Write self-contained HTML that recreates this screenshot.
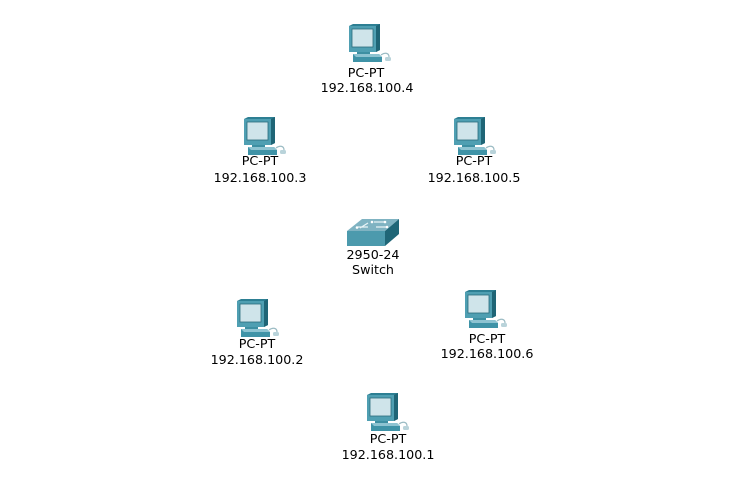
<!DOCTYPE html>
<html><head><meta charset="utf-8"><style>
html,body{margin:0;padding:0;background:#fff;}
body{width:745px;height:491px;position:relative;overflow:hidden;font-family:"DejaVu Sans","Liberation Sans",sans-serif;font-size:12.7px;color:#000;}
.i{position:absolute;}
.t{position:absolute;width:160px;text-align:center;line-height:15px;white-space:nowrap;}
</style></head><body>
<svg width="0" height="0" style="position:absolute">
<defs>
<symbol id="pc" viewBox="0 0 45 38">
  <polygon points="2,2 6,0 33,0 33,26 29,28 2,28" fill="#2d7f93"/>
  <polygon points="2,2 29,2 29,28 2,28" fill="#4f9fb2"/>
  <polygon points="29,2 33,0 33,26 29,28" fill="#1f6576"/>
  <rect x="5" y="5" width="21" height="18" fill="#cfe4ea" stroke="#2a6c7c" stroke-width="0.8"/>
  <rect x="10" y="28" width="13" height="2" fill="#3d8fa2"/>
  <polygon points="6,30 32,30 35,33 35,38 6,38" fill="#3f93a7"/>
  <polygon points="6,30 32,30 35,33 9,33" fill="#8dc3d1"/>
  <path d="M34,31 C38,28 42,29 42,33" stroke="#9cbcc4" stroke-width="1.2" fill="none"/>
  <rect x="38" y="33" width="6" height="4" rx="1.5" fill="#b9d3da"/>
</symbol>
</defs></svg>

<svg class="i" style="left:347px;top:24px" width="45" height="38"><use href="#pc"/></svg>
<div class="t" style="left:286px;top:65px">PC-PT</div>
<div class="t" style="left:287px;top:80px">192.168.100.4</div>

<svg class="i" style="left:242px;top:117px" width="45" height="38"><use href="#pc"/></svg>
<div class="t" style="left:180px;top:153px">PC-PT</div>
<div class="t" style="left:180px;top:170px">192.168.100.3</div>

<svg class="i" style="left:452px;top:117px" width="45" height="38"><use href="#pc"/></svg>
<div class="t" style="left:394px;top:153px">PC-PT</div>
<div class="t" style="left:394px;top:170px">192.168.100.5</div>

<svg class="i" style="left:346px;top:218px" width="56" height="30" viewBox="0 0 56 30">
  <polygon points="1,13 16,1 53,1 39,13" fill="#7fb3c2"/>
  <polygon points="1,13 39,13 39,28 1,28" fill="#4c9aad"/>
  <polygon points="39,13 53,1 53,16 39,28" fill="#1f6677"/>
  <path d="M12,9 L22,9 M28,4 L38,4 M14,10 L22,5 M30,9 L40,9" stroke="#e8f3f6" stroke-width="1.3"/>
  <circle cx="11" cy="9.5" r="1.3" fill="#fff"/><circle cx="41" cy="9" r="1.3" fill="#fff"/>
  <circle cx="26" cy="4" r="1.3" fill="#fff"/><circle cx="39" cy="4" r="1.3" fill="#fff"/>
</svg>
<div class="t" style="left:293px;top:247px">2950-24</div>
<div class="t" style="left:293px;top:262px">Switch</div>

<svg class="i" style="left:235px;top:299px" width="45" height="38"><use href="#pc"/></svg>
<div class="t" style="left:177px;top:336px">PC-PT</div>
<div class="t" style="left:177px;top:352px">192.168.100.2</div>

<svg class="i" style="left:463px;top:290px" width="45" height="38"><use href="#pc"/></svg>
<div class="t" style="left:407px;top:331px">PC-PT</div>
<div class="t" style="left:407px;top:346px">192.168.100.6</div>

<svg class="i" style="left:365px;top:393px" width="45" height="38"><use href="#pc"/></svg>
<div class="t" style="left:308px;top:431px">PC-PT</div>
<div class="t" style="left:308px;top:447px">192.168.100.1</div>
</body></html>
